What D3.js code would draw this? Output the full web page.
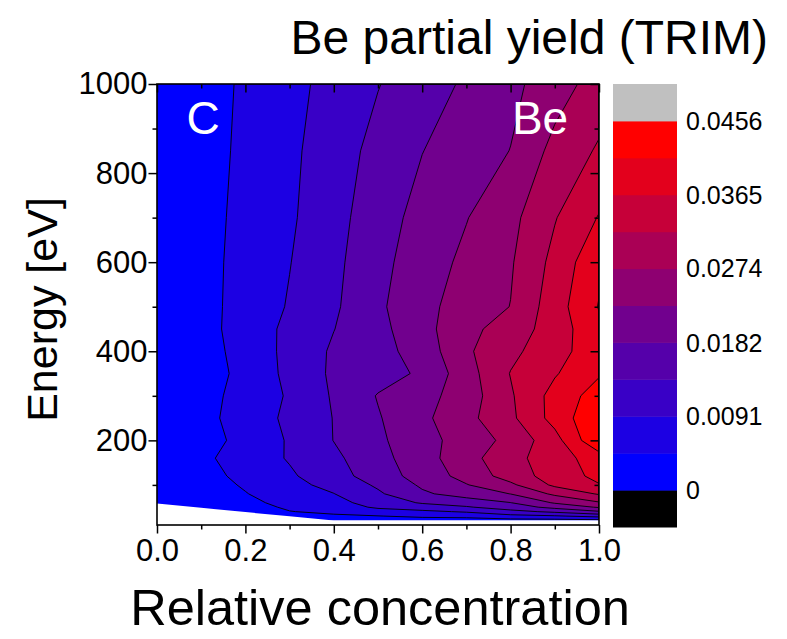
<!DOCTYPE html>
<html>
<head>
<meta charset="utf-8">
<script src="https://cdn.jsdelivr.net/npm/d3@7"></script>
<style>
  body { margin: 0; background: #fff; }
  svg { display: block; font-family: "Liberation Sans", Arial, sans-serif; }
</style>
</head>
<body>
<div id="chart"></div>
<script>
const concentrations = [0, 0.1, 0.2, 0.3, 0.4, 0.5, 0.6, 0.7, 0.8, 0.9, 1.0]
const energies = [20, 30, 40, 50, 60, 80, 100, 120, 160, 200, 250, 300, 350, 400, 450, 500, 600, 700, 850, 1000]
// Be partial yield: one row per energy (eV), one column per relative concentration
const partialYield = [
  [0, 0.00023, 0.00068, 0.00182, 0.00182, 0.00182, 0.00228, 0.00228, 0.00274, 0.00274, 0.00319],
  [0, 0.00046, 0.00137, 0.00319, 0.00388, 0.00442, 0.00547, 0.00593, 0.00775, 0.00866, 0.01049],
  [0, 0.00091, 0.00205, 0.00442, 0.00547, 0.00730, 0.00821, 0.00958, 0.01231, 0.01459, 0.01778],
  [0, 0.00137, 0.00274, 0.00524, 0.00684, 0.00980, 0.01140, 0.01322, 0.01596, 0.01961, 0.02326],
  [0, 0.00182, 0.00342, 0.00593, 0.00775, 0.01094, 0.01414, 0.01596, 0.01815, 0.02326, 0.02690],
  [0, 0.00228, 0.00438, 0.00684, 0.00903, 0.01300, 0.01756, 0.02006, 0.02289, 0.02827, 0.03238],
  [0, 0.00260, 0.00502, 0.00775, 0.01049, 0.01436, 0.01892, 0.02257, 0.02645, 0.03283, 0.03625],
  [0, 0.00292, 0.00575, 0.00848, 0.01186, 0.01587, 0.02016, 0.02435, 0.02937, 0.03406, 0.03762],
  [0, 0.00360, 0.00661, 0.00949, 0.01272, 0.01674, 0.02089, 0.02567, 0.03046, 0.03434, 0.03876],
  [0, 0.00278, 0.00588, 0.00958, 0.01377, 0.01742, 0.02116, 0.02476, 0.02868, 0.03479, 0.04514],
  [0, 0.00315, 0.00652, 0.01008, 0.01382, 0.01788, 0.02180, 0.02604, 0.03096, 0.03812, 0.04514],
  [0, 0.00296, 0.00616, 0.00962, 0.01418, 0.01851, 0.02116, 0.02503, 0.03137, 0.03812, 0.04309],
  [0, 0.00260, 0.00570, 0.01031, 0.01446, 0.01642, 0.01892, 0.02545, 0.03210, 0.03607, 0.04058],
  [0, 0.00278, 0.00607, 0.01040, 0.01432, 0.01669, 0.02011, 0.02668, 0.03083, 0.03475, 0.03922],
  [0, 0.00296, 0.00643, 0.01021, 0.01359, 0.01687, 0.02130, 0.02599, 0.02959, 0.03393, 0.04013],
  [0, 0.00304, 0.00620, 0.00949, 0.01300, 0.01742, 0.02157, 0.02467, 0.02745, 0.03443, 0.04127],
  [0, 0.00304, 0.00602, 0.00898, 0.01259, 0.01692, 0.02057, 0.02380, 0.02690, 0.03324, 0.04013],
  [0, 0.00294, 0.00579, 0.00848, 0.01213, 0.01623, 0.01975, 0.02262, 0.02608, 0.03165, 0.03675],
  [0, 0.00276, 0.00547, 0.00816, 0.01158, 0.01505, 0.01815, 0.02047, 0.02289, 0.02877, 0.03247],
  [0, 0.00262, 0.00523, 0.00780, 0.01058, 0.01350, 0.01619, 0.01888, 0.02166, 0.02522, 0.02937]
]
// lowest simulated energy for each concentration (below it: no data)
const lowestEnergy = [58, 48.5, 39, 29.5, 20, 20, 20, 20, 20, 20, 20]

const levels = [0, 0.00456, 0.00912, 0.01368, 0.01824, 0.0228, 0.02736, 0.03192, 0.03648, 0.04104, 0.0456]
const barTicks = [0, 0.0091, 0.0182, 0.0274, 0.0365, 0.0456]
const energyTicks = [200, 400, 600, 800, 1000]
const energyMinor = [100, 300, 500, 700, 900]
const concTicks = [0, 0.2, 0.4, 0.6, 0.8, 1.0]
const concMinor = [0.1, 0.3, 0.5, 0.7, 0.9]

const width = 787
const height = 639
const plot = { left: 157, right: 599, top: 84, bottom: 525 }
const bar = { left: 613, right: 677, top: 84, bottom: 527 }

const x = d3.scaleLinear().domain([0, 1]).range([plot.left, plot.right])
const y = d3.scaleLinear().domain([10, 1000]).range([plot.bottom, plot.top])

const ramp = d3.interpolateRgb('#0000ff', '#ff0000')
const bandColor = i => i >= levels.length - 1 ? '#c0c0c0' : ramp(i / (levels.length - 2))

const svg = d3.select('#chart').append('svg')
  .attr('width', width)
  .attr('height', height)

// contour polygons on the (concentration, energy) grid
const nx = concentrations.length
const ny = energies.length
const contours = d3.contours()
  .size([nx, ny])
  .thresholds(levels)(partialYield.flat())

function gridToData(g, arr) {
  const f = Math.max(0, Math.min(arr.length - 1, g - 0.5))
  const i = Math.min(arr.length - 2, Math.floor(f))
  return arr[i] + (arr[i + 1] - arr[i]) * (f - i)
}
const path = d3.geoPath(d3.geoTransform({
  point(gx, gy) {
    this.stream.point(x(gridToData(gx, concentrations)), y(gridToData(gy, energies)))
  }
}))

const hull = [[0, d3.max(energies)], [1, d3.max(energies)]]
  .concat(concentrations.map((c, i) => [c, lowestEnergy[i]]).reverse())
svg.append('clipPath').attr('id', 'hull')
  .append('path')
  .attr('d', d3.line().x(d => x(d[0])).y(d => y(d[1]))(hull) + 'Z')

const field = svg.append('g').attr('clip-path', 'url(#hull)')
field.selectAll('path.band')
  .data(contours)
  .join('path')
  .attr('class', 'band')
  .attr('d', path)
  .attr('fill', (d, i) => bandColor(i))
field.selectAll('path.iso')
  .data(contours.slice(1))
  .join('path')
  .attr('class', 'iso')
  .attr('d', path)
  .attr('fill', 'none')
  .attr('stroke', '#000')
  .attr('stroke-width', 0.9)
  .attr('stroke-linejoin', 'round')

// labels inside the plot
svg.append('text')
  .attr('x', x(0.067)).attr('y', y(888))
  .attr('fill', '#fff').attr('font-size', 46)
  .text('C')
svg.append('text')
  .attr('x', x(0.803)).attr('y', y(888))
  .attr('fill', '#fff').attr('font-size', 46)
  .text('Be')

// axes
function styleAxis(g) {
  g.select('.domain').remove()
  g.selectAll('.tick line').attr('stroke', '#000').attr('stroke-width', 1.5)
  g.selectAll('.tick text').attr('fill', '#000').attr('font-size', 31)
    .attr('font-family', '"Liberation Sans", Arial, sans-serif')
}
svg.append('g').attr('transform', `translate(${plot.left},0)`)
  .call(d3.axisLeft(y).tickValues(energyTicks).tickSize(8.5).tickPadding(1).tickFormat(d3.format('d')))
  .call(styleAxis)
svg.append('g').attr('transform', `translate(${plot.left},0)`)
  .call(d3.axisLeft(y).tickValues(energyMinor).tickSize(4.5).tickFormat(''))
  .call(styleAxis)
svg.append('g').attr('transform', `translate(${plot.right},0)`)
  .call(d3.axisLeft(y).tickValues(energyTicks).tickSize(8.5).tickFormat(''))
  .call(styleAxis)
svg.append('g').attr('transform', `translate(${plot.right},0)`)
  .call(d3.axisLeft(y).tickValues(energyMinor).tickSize(4.5).tickFormat(''))
  .call(styleAxis)
svg.append('g').attr('transform', `translate(0,${plot.bottom})`)
  .call(d3.axisBottom(x).tickValues(concTicks).tickSize(8.5).tickPadding(5).tickFormat(d3.format('.1f')))
  .call(styleAxis)
svg.append('g').attr('transform', `translate(0,${plot.bottom})`)
  .call(d3.axisBottom(x).tickValues(concMinor).tickSize(4.5).tickFormat(''))
  .call(styleAxis)
svg.append('g').attr('transform', `translate(0,${plot.top})`)
  .call(d3.axisBottom(x).tickValues(concTicks).tickSize(8.5).tickFormat(''))
  .call(styleAxis)
svg.append('g').attr('transform', `translate(0,${plot.top})`)
  .call(d3.axisBottom(x).tickValues(concMinor).tickSize(4.5).tickFormat(''))
  .call(styleAxis)

svg.append('rect')
  .attr('x', plot.left).attr('y', plot.top)
  .attr('width', plot.right - plot.left).attr('height', plot.bottom - plot.top)
  .attr('fill', 'none').attr('stroke', '#000').attr('stroke-width', 1.6)

// colour scale bar
const step = levels[1] - levels[0]
const barY = d3.scaleLinear()
  .domain([levels[0] - step, levels[levels.length - 1] + step])
  .range([bar.bottom, bar.top])
const barBands = [{ lo: levels[0] - step, hi: levels[0], color: '#000' }]
  .concat(levels.map((lv, i) => ({
    lo: lv,
    hi: i < levels.length - 1 ? levels[i + 1] : lv + step,
    color: bandColor(i)
  })))
svg.append('g').selectAll('rect')
  .data(barBands)
  .join('rect')
  .attr('x', bar.left)
  .attr('width', bar.right - bar.left)
  .attr('y', d => barY(d.hi))
  .attr('height', d => barY(d.lo) - barY(d.hi) + 0.5)
  .attr('fill', d => d.color)
svg.append('g').selectAll('text')
  .data(barTicks)
  .join('text')
  .attr('x', 686)
  .attr('y', d => barY(d))
  .attr('dy', '0.36em')
  .attr('font-size', 25)
  .text(d => d === 0 ? '0' : d3.format('.4f')(d))

// titles
svg.append('text')
  .attr('x', 768).attr('y', 54)
  .attr('text-anchor', 'end')
  .attr('font-size', 48)
  .text('Be partial yield (TRIM)')
svg.append('text')
  .attr('x', 380).attr('y', 625)
  .attr('text-anchor', 'middle')
  .attr('font-size', 50.5)
  .text('Relative concentration')
svg.append('text')
  .attr('transform', `translate(57,${(plot.top + plot.bottom) / 2 + 5}) rotate(-90)`)
  .attr('text-anchor', 'middle')
  .attr('font-size', 43)
  .text('Energy [eV]')
</script>
</body>
</html>
